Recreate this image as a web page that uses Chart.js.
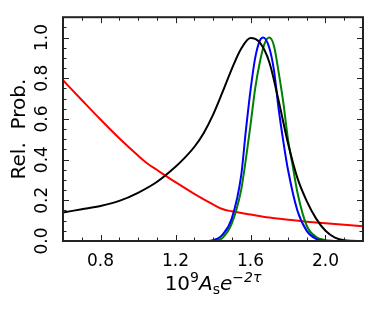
<!DOCTYPE html>
<html>
<head>
<meta charset="utf-8">
<script src="https://cdn.jsdelivr.net/npm/chart.js@4"></script>
<style>
  html, body { margin: 0; padding: 0; background: #fff; }
</style>
</head>
<body>
<canvas id="probChart" width="374" height="309"></canvas>
<script>
// tick labels
const xTicks = [0.8, 1.2, 1.6, 2.0];
const xTickLabels = ['0.8', '1.2', '1.6', '2.0'];
const yTicks = [0, 0.2, 0.4, 0.6, 0.8, 1.0];
const yTickLabels = ['0.0', '0.2', '0.4', '0.6', '0.8', '1.0'];

// red curve
const redX = [0.6, 0.7, 0.8, 0.9, 1.0, 1.05, 1.1, 1.2, 1.3, 1.4, 1.45, 1.5, 1.6, 1.7, 1.8, 1.9, 2.0, 2.1, 2.2];
const redY = [0.79, 0.693, 0.597, 0.505, 0.42, 0.381, 0.35, 0.289, 0.232, 0.18, 0.157, 0.146, 0.13, 0.115, 0.104, 0.095, 0.087, 0.08, 0.073];

// black curve
const blackX = [0.6, 0.7, 0.8, 0.9, 1.0, 1.1, 1.2, 1.25, 1.3, 1.35, 1.4, 1.45, 1.5, 1.55, 1.6, 1.65, 1.7, 1.75, 1.8, 1.85, 1.9, 1.95, 2.0, 2.05, 2.1, 2.2];
const blackY = [0.14, 0.156, 0.172, 0.197, 0.237, 0.29, 0.365, 0.41, 0.462, 0.53, 0.62, 0.73, 0.845, 0.945, 0.998, 0.975, 0.88, 0.69, 0.48, 0.31, 0.196, 0.11, 0.05, 0.017, 0.004, 0];

// blue curve
const blueX = [1.38, 1.42, 1.45, 1.5, 1.55, 1.575, 1.6, 1.625, 1.65, 1.668, 1.7, 1.725, 1.75, 1.775, 1.8, 1.85, 1.9, 1.95, 2.0];
const blueY = [0, 0.01, 0.03, 0.11, 0.32, 0.54, 0.74, 0.9, 0.985, 1.0, 0.95, 0.84, 0.65, 0.49, 0.35, 0.15, 0.05, 0.01, 0];

// green curve
const greenX = [1.4, 1.45, 1.5, 1.55, 1.575, 1.6, 1.625, 1.65, 1.675, 1.7, 1.725, 1.75, 1.775, 1.8, 1.825, 1.85, 1.9, 1.95, 2.0, 2.05];
const greenY = [0, 0.015, 0.085, 0.25, 0.4, 0.57, 0.75, 0.88, 0.97, 1.0, 0.96, 0.83, 0.68, 0.5, 0.37, 0.24, 0.075, 0.02, 0.004, 0];

const pts = (xs, ys) => xs.map((v, i) => ({ x: v, y: ys[i] }));

const line = (label, xs, ys, color) => ({
  label: label,
  data: pts(xs, ys),
  borderColor: color,
  borderWidth: 2,
  pointRadius: 0,
  fill: false,
  cubicInterpolationMode: 'monotone'
});

// frame, inward ticks and the x title
const frameTicks = {
  id: 'frameTicks',
  afterDatasetsDraw(chart) {
    const { ctx, chartArea: a, scales: { x, y } } = chart;
    ctx.save();
    ctx.strokeStyle = '#222';
    ctx.lineWidth = 1;
    ctx.beginPath();
    for (let i = 7; i <= 21; i++) {
      const v = i / 10;
      const px = Math.round(x.getPixelForValue(v)) + 0.5;
      const len = xTicks.some(t => Math.abs(t - v) < 1e-6) ? 6 : 3.5;
      ctx.moveTo(px, a.bottom); ctx.lineTo(px, a.bottom - len);
      ctx.moveTo(px, a.top); ctx.lineTo(px, a.top + len);
    }
    for (let i = 1; i <= 21; i++) {
      const v = i * 0.05;
      const py = Math.round(y.getPixelForValue(v)) + 0.5;
      const len = i % 4 === 0 ? 6 : 3.5;
      ctx.moveTo(a.left, py); ctx.lineTo(a.left + len, py);
      ctx.moveTo(a.right, py); ctx.lineTo(a.right - len, py);
    }
    ctx.stroke();
    ctx.lineWidth = 2;
    ctx.strokeRect(a.left, a.top, a.right - a.left, a.bottom - a.top);

    // 10^9 A_s e^{-2tau}
    const parts = [
      { t: '10', f: '20px "DejaVu Sans"', dy: 0 },
      { t: '9', f: '14px "DejaVu Sans"', dy: -8 },
      { t: 'A', f: 'italic 20px "DejaVu Sans"', dy: 0 },
      { t: 's', f: '14px "DejaVu Sans"', dy: 4 },
      { t: 'e', f: 'italic 20px "DejaVu Sans"', dy: 0 },
      { t: '\u22122\u03c4', f: 'italic 14px "DejaVu Sans"', dy: -8 }
    ];
    let total = 0;
    parts.forEach(p => { ctx.font = p.f; p.w = ctx.measureText(p.t).width; total += p.w; });
    let cx = (a.left + a.right) / 2 - total / 2;
    ctx.fillStyle = '#000';
    ctx.textBaseline = 'alphabetic';
    ctx.textAlign = 'left';
    parts.forEach(p => { ctx.font = p.f; ctx.fillText(p.t, cx, 290 + p.dy); cx += p.w; });
    ctx.restore();
  }
};

const ctxProb = document.getElementById('probChart').getContext('2d');
const probChart = new Chart(ctxProb, {
  type: 'line',
  data: {
    datasets: [
      line('black', blackX, blackY, '#000000'),
      line('blue', blueX, blueY, '#0000ff'),
      line('green', greenX, greenY, '#008000'),
      line('red', redX, redY, '#ff0000')
    ]
  },
  options: {
    responsive: false,
    animation: false,
    layout: { padding: { top: 10, right: 11, left: 0, bottom: 0 } },
    plugins: { legend: { display: false }, tooltip: { enabled: false } },
    scales: {
      x: {
        type: 'linear',
        min: 0.6,
        max: 2.2,
        afterBuildTicks: s => { s.ticks = xTicks.map(v => ({ value: v })); },
        afterFit: s => { s.height = 68; },
        grid: { display: false, drawTicks: false },
        border: { display: false },
        ticks: {
          padding: 10,
          maxRotation: 0,
          color: '#000',
          font: { family: 'DejaVu Sans', size: 17 },
          callback: v => xTickLabels[xTicks.findIndex(t => Math.abs(t - v) < 1e-6)]
        }
      },
      y: {
        min: 0,
        max: 1.1,
        afterBuildTicks: s => { s.ticks = yTicks.map(v => ({ value: v })); },
        afterFit: s => { s.width = 63; },
        grid: { display: false, drawTicks: false },
        border: { display: false },
        title: {
          display: true,
          text: 'Rel.  Prob.',
          color: '#000',
          font: { family: 'DejaVu Sans', size: 20 },
          padding: { top: 8, bottom: 0 }
        },
        ticks: {
          padding: 7,
          minRotation: 90,
          maxRotation: 90,
          crossAlign: 'center',
          color: '#000',
          font: { family: 'DejaVu Sans', size: 17 },
          callback: v => yTickLabels[yTicks.findIndex(t => Math.abs(t - v) < 1e-6)]
        }
      }
    }
  },
  plugins: [frameTicks]
});
</script>
</body>
</html>
